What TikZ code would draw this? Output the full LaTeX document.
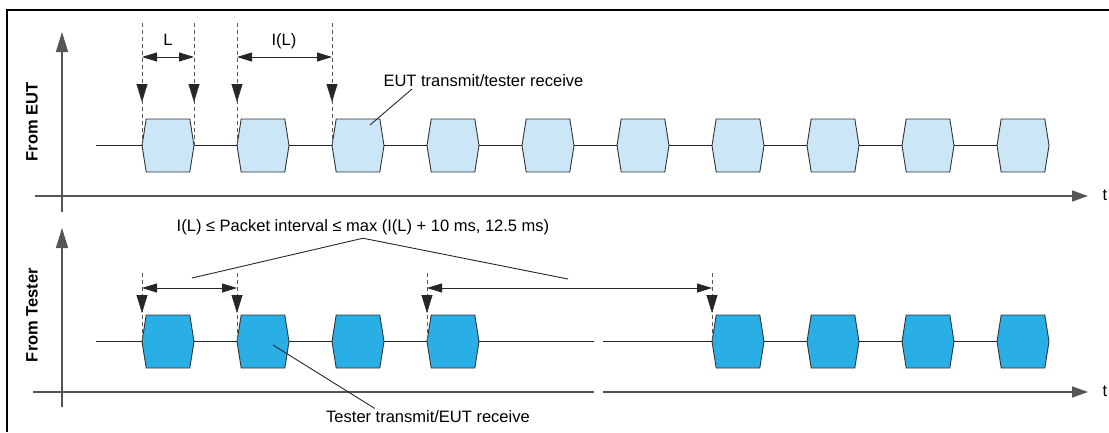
\documentclass[tikz,border=0pt]{standalone}
\usepackage{fontspec}
\setmainfont{Liberation Sans}
\usepackage{xcolor}
\usepackage{tikz}
\usetikzlibrary{arrows.meta, shapes.symbols, positioning, calc}

\definecolor{eutfill}{HTML}{CBE6F7}
\definecolor{testfill}{HTML}{29AFE5}
\definecolor{axisgray}{HTML}{555555}

\tikzset{
  packet/.style={signal, signal to=east and west, signal pointer angle=162,
    draw=black!80, line width=0.9pt, minimum width=52pt, minimum height=53pt,
    inner sep=0pt, outer sep=0pt},
  axisline/.style={draw=axisgray, line width=1.4pt},
  sigline/.style={draw=black!85, line width=1pt},
  marker/.style={draw=black!65, line width=0.9pt, dash pattern=on 4pt off 3pt},
  downtip/.style={-{Triangle[length=18pt,width=11pt]}, draw=black!85, fill=black!85},
  dimarrow/.style={{Triangle[length=15pt,width=9pt]}-{Triangle[length=15pt,width=9pt]},
    draw=black!85, line width=1pt},
  pointer/.style={draw=black!85, line width=0.9pt}
}

\begin{document}
\begin{tikzpicture}[x=1pt, y=-1pt, every node/.style={font=\fontsize{16.5}{19}\selectfont}]
  \useasboundingbox (0,0) rectangle (1109,432);
  \draw[line width=2pt] (7,432) -- (7,10) -- (1109,10);

  % axes
  \draw[axisline, -{Triangle[length=20pt,width=12pt]}] (62,212) -- (62,32);
  \draw[axisline, -{Triangle[length=16pt,width=11pt]}] (35,196) -- (1088,196);
  \node (tEUT) at (1105,195) {t};
  \draw[axisline, -{Triangle[length=20pt,width=12pt]}] (62,407) -- (62,228);
  \draw[axisline] (33,392) -- (594,392);
  \draw[axisline, -{Triangle[length=16pt,width=11pt]}] (603,392) -- (1088,392);
  \node (tTester) at (1105,391) {t};

  \node[rotate=90, font=\fontsize{16.5}{19}\selectfont\bfseries] (fromEUT) at (32,122) {From EUT};
  \node[rotate=90, font=\fontsize{16.5}{19}\selectfont\bfseries] (fromTester) at (32,315) {From Tester};

  % EUT packets
  \foreach \k in {0,...,9}
    \node[packet, fill=eutfill] (e\k) at (168+95*\k,145.5) {};
  \draw[sigline] (96,145.5) -- (e0.west);
  \foreach \k [evaluate=\k as \n using int(\k+1)] in {0,...,8}
    \draw[sigline] (e\k.east) -- (e\n.west);

  \coordinate (dtopE) at (0,23);
  \coordinate (tipA) at (0,84);
  \coordinate (tipB) at (0,102);
  \foreach \a in {e0.west, e0.east, e1.west, e2.west} {
    \draw[marker] (\a |- dtopE) -- (\a);
    \draw[downtip] (\a |- tipA) -- (\a |- tipB);
  }
  \coordinate (dimL) at (0,57);
  \draw[dimarrow] (e0.west |- dimL) -- (e0.east |- dimL);
  \draw[dimarrow] (e1.west |- dimL) -- (e2.west |- dimL);
  \node (Llbl) at (168,40) {L};
  \node (ILlbl) at (284,41) {I(L)};

  \node[anchor=west] (eutlbl) at (380,81) {EUT transmit/tester receive};
  \coordinate (eutfrom) at (412,89);
  \coordinate (eutto) at (370,125);
  \draw[pointer] (eutfrom) -- (eutto);

  % Tester packets
  \foreach \k in {0,1,2,3,6,7,8,9}
    \node[packet, fill=testfill] (t\k) at (168+95*\k,341.5) {};
  \coordinate (bstart) at (96,341.5);
  \coordinate (gapL) at (594,341.5);
  \coordinate (gapR) at (603,341.5);
  \draw[sigline] (bstart) -- (t0.west);
  \draw[sigline] (t0.east) -- (t1.west);
  \draw[sigline] (t1.east) -- (t2.west);
  \draw[sigline] (t2.east) -- (t3.west);
  \draw[sigline] (t3.east) -- (gapL);
  \draw[sigline] (gapR) -- (t6.west);
  \draw[sigline] (t6.east) -- (t7.west);
  \draw[sigline] (t7.east) -- (t8.west);
  \draw[sigline] (t8.east) -- (t9.west);

  \coordinate (dtopT) at (0,273);
  \coordinate (tipC) at (0,295);
  \coordinate (tipD) at (0,313);
  \foreach \a in {t0.west, t1.west, t3.west, t6.west} {
    \draw[marker] (\a |- dtopT) -- (\a);
    \draw[downtip] (\a |- tipC) -- (\a |- tipD);
  }
  \coordinate (dimT) at (0,288);
  \draw[dimarrow] (t0.west |- dimT) -- (t1.west |- dimT);
  \draw[dimarrow] (t3.west |- dimT) -- (t6.west |- dimT);

  \node (intlbl) at (363,227) {I(L) ≤ Packet interval ≤ max (I(L) + 10 ms, 12.5 ms)};
  \coordinate (intL) at (192,278);
  \coordinate (intR) at (568,279);
  \draw[pointer] (intL) -- (intlbl.south) -- (intR);

  \node (testlbl) at (428,417) {Tester transmit/EUT receive};
  \coordinate (testfrom) at (273,345);
  \draw[pointer] (testfrom) -- ($(testlbl.north west)+(52,1)$);
\end{tikzpicture}
\end{document}
